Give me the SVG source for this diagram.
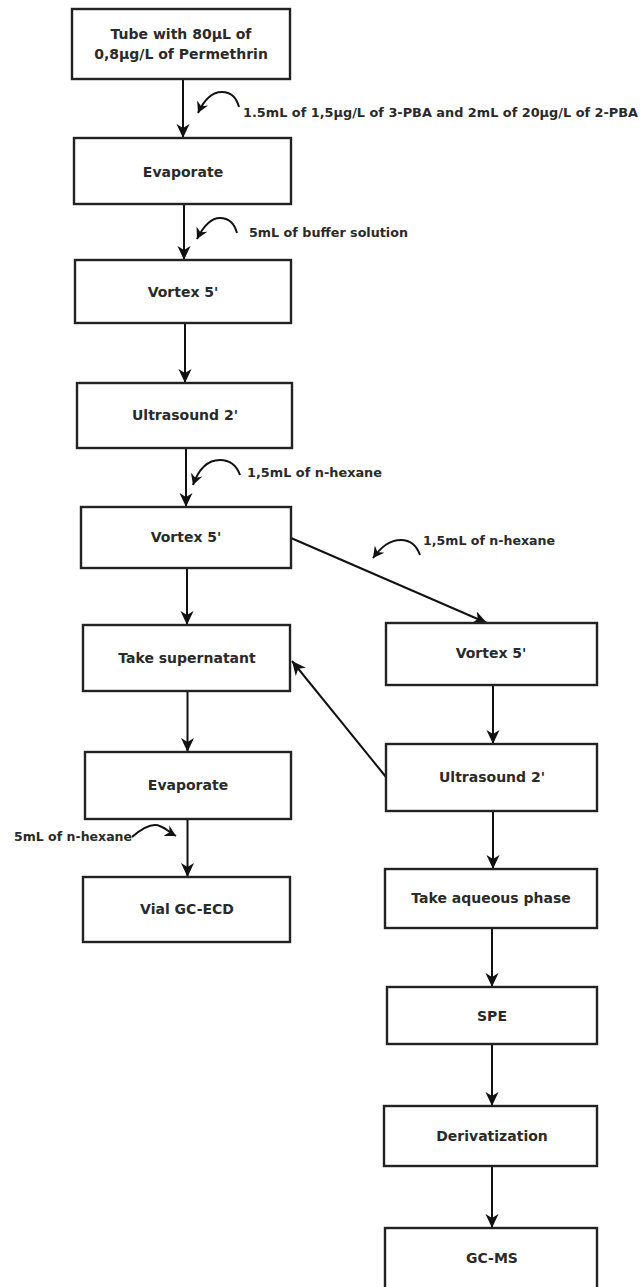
<svg xmlns="http://www.w3.org/2000/svg" width="641" height="1287" viewBox="0 0 641 1287">
<style>
.box{fill:#fff;stroke:#222;stroke-width:2.4}
.t{font-family:"DejaVu Sans",sans-serif;font-weight:bold;font-size:14px;fill:#2a2a2a;text-anchor:middle}
.lb{font-family:"DejaVu Sans",sans-serif;font-weight:bold;font-size:12.5px;fill:#2a2a2a}
.c{fill:none;stroke:#111;stroke-width:2}
</style>
<defs>
<marker id="ah" markerWidth="16" markerHeight="14" refX="14" refY="7" orient="auto" markerUnits="userSpaceOnUse"><path d="M0,0.5 L14,7 L0,13.5 L4,7 z" fill="#111"/></marker>
<marker id="ch" markerWidth="14" markerHeight="14" refX="11" refY="7" orient="auto" markerUnits="userSpaceOnUse"><path d="M0,1 L11,7 L0,13 L3.5,7 z" fill="#111"/></marker>
</defs>
<rect width="641" height="1287" fill="#fff"/>
<g id="connectors">
<path class="c" d="M183,79 V138" marker-end="url(#ah)"/>
<path class="c" d="M184,204 V260" marker-end="url(#ah)"/>
<path class="c" d="M185,323 V383" marker-end="url(#ah)"/>
<path class="c" d="M186,448 V507" marker-end="url(#ah)"/>
<path class="c" d="M187,568 V625" marker-end="url(#ah)"/>
<path class="c" d="M187.5,691 V752" marker-end="url(#ah)"/>
<path class="c" d="M187.5,819 V877" marker-end="url(#ah)"/>
<path class="c" d="M291,538 L487,623" marker-end="url(#ah)"/>
<path class="c" d="M386,777 L292,661" marker-end="url(#ah)"/>
<path class="c" d="M493,685 V744" marker-end="url(#ah)"/>
<path class="c" d="M493,811 V869" marker-end="url(#ah)"/>
<path class="c" d="M492,928 V987" marker-end="url(#ah)"/>
<path class="c" d="M492,1044 V1106" marker-end="url(#ah)"/>
<path class="c" d="M492,1166 V1228" marker-end="url(#ah)"/>
<path class="c" d="M239,107 C236,96 229,92 222,92 C212,92 204,100 198,113" marker-end="url(#ch)"/>
<path class="c" d="M237,233 C234,222 228,218 220,218 C211,218 204,225 197,239" marker-end="url(#ch)"/>
<path class="c" d="M240,475 C236,464 229,460 220,460 C208,460 199,468 193,485" marker-end="url(#ch)"/>
<path class="c" d="M420,555 C416,544 409,540 401,540 C390,540 382,546 373,558" marker-end="url(#ch)"/>
<path class="c" d="M132,837 C140,830 147,825 155,825 C163,825 167,831 176,836" marker-end="url(#ch)"/>
</g>
<g id="labels">
<text class="lb" x="243" y="117" textLength="395" lengthAdjust="spacingAndGlyphs">1.5mL of 1,5µg/L of 3-PBA and 2mL of 20µg/L of 2-PBA</text>
<text class="lb" x="249" y="237" textLength="159" lengthAdjust="spacingAndGlyphs">5mL of buffer solution</text>
<text class="lb" x="247" y="477" textLength="135" lengthAdjust="spacingAndGlyphs">1,5mL of n-hexane</text>
<text class="lb" x="423" y="545" textLength="132" lengthAdjust="spacingAndGlyphs">1,5mL of n-hexane</text>
<text class="lb" x="14" y="841" textLength="118" lengthAdjust="spacingAndGlyphs">5mL of n-hexane</text>
</g>
<g id="n1"><rect class="box" x="72" y="9" width="218" height="70"/><text class="t" x="181" y="39">Tube with 80µL of</text><text class="t" x="181" y="59">0,8µg/L of Permethrin</text></g>
<g id="n2"><rect class="box" x="74" y="138" width="217" height="66"/><text class="t" x="183" y="177">Evaporate</text></g>
<g id="n3"><rect class="box" x="75" y="260" width="216" height="63"/><text class="t" x="183" y="297">Vortex 5'</text></g>
<g id="n4"><rect class="box" x="77" y="383" width="215" height="65"/><text class="t" x="185" y="420">Ultrasound 2'</text></g>
<g id="n5"><rect class="box" x="81" y="507" width="210" height="61"/><text class="t" x="186" y="542">Vortex 5'</text></g>
<g id="n6"><rect class="box" x="83" y="625" width="207" height="66"/><text class="t" x="187" y="663">Take supernatant</text></g>
<g id="n7"><rect class="box" x="85" y="752" width="206" height="67"/><text class="t" x="188" y="790">Evaporate</text></g>
<g id="n8"><rect class="box" x="83" y="877" width="207" height="65"/><text class="t" x="187" y="914">Vial GC-ECD</text></g>
<g id="n9"><rect class="box" x="386" y="623" width="211" height="62"/><text class="t" x="491" y="658">Vortex 5'</text></g>
<g id="n10"><rect class="box" x="386" y="744" width="211" height="67"/><text class="t" x="492" y="782">Ultrasound 2'</text></g>
<g id="n11"><rect class="box" x="385" y="869" width="212" height="59"/><text class="t" x="491" y="903">Take aqueous phase</text></g>
<g id="n12"><rect class="box" x="387" y="987" width="210" height="57"/><text class="t" x="492" y="1021">SPE</text></g>
<g id="n13"><rect class="box" x="384" y="1106" width="213" height="60"/><text class="t" x="492" y="1141">Derivatization</text></g>
<g id="n14"><rect class="box" x="385" y="1228" width="212" height="62"/><text class="t" x="492" y="1263">GC-MS</text></g>
</svg>
